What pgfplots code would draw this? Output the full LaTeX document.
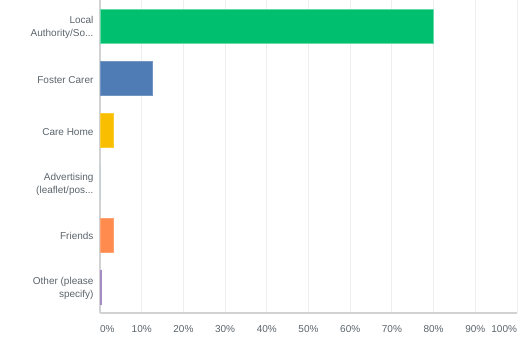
\documentclass[border=0pt]{standalone}
\usepackage{fontspec}
\setmainfont{Liberation Sans}
\usepackage{pgfplots}
\pgfplotsset{compat=1.18}
\definecolor{cgreen}{HTML}{00BF6F}
\definecolor{cblue}{HTML}{507CB6}
\definecolor{cyellow}{HTML}{F9BE00}
\definecolor{cteal}{HTML}{6BC8CD}
\definecolor{corange}{HTML}{FF8B4F}
\definecolor{cpurple}{HTML}{A68BC4}
\definecolor{ctext}{HTML}{5A646B}
\definecolor{cgrid}{HTML}{EDEEEE}
\definecolor{caxis}{HTML}{D0D2D3}
\begin{document}
\begin{tikzpicture}
\path[use as bounding box] (0,0) rectangle (519pt,357pt);
\begin{axis}[
  at={(100pt,44pt)}, anchor=south west,
  scale only axis, width=417pt, height=313pt,
  xbar, bar width=34pt,
  xmin=0, xmax=100,
  ymin=-0.5, ymax=5.5, y dir=reverse,
  axis x line*=bottom, axis y line*=left,
  axis line style={caxis, line width=1.2pt, -},
  xmajorgrids, grid style={cgrid, line width=1pt},
  major tick length=0pt,
  xtick={0,10,20,30,40,50,60,70,80,90,100},
  xticklabels={{\makebox[0pt][l]{0\%}},10\%,20\%,30\%,40\%,50\%,60\%,70\%,80\%,90\%,{\makebox[0pt][r]{100\%}}},
  ytick={0,1,2,3,4,5},
  yticklabels={{Local\\Authority/So.\kern0pt.\kern0pt.},{Foster Carer},{Care Home},{Advertising\\(leaflet/pos.\kern0pt.\kern0pt.},{Friends},{Other (please\\specify)}},
  tick label style={font=\fontsize{10}{13}\selectfont, text=ctext},
  yticklabel style={align=right, xshift=-3pt, yshift=-1.5pt},
  xticklabel style={yshift=-9pt},
]
\addplot[fill=cgreen, draw=cgreen!60!white, bar shift=0pt] coordinates {(80,0)};
\addplot[fill=cblue, draw=cblue!80!white, bar shift=0pt] coordinates {(12.4,1)};
\addplot[fill=cyellow, draw=cyellow!80!white, bar shift=0pt] coordinates {(3.2,2)};
\addplot[fill=cteal, draw=none, bar shift=0pt] coordinates {(0,3)};
\addplot[fill=corange, draw=corange!80!white, bar shift=0pt] coordinates {(3.2,4)};
\addplot[fill=cpurple, draw=cpurple, bar shift=0pt] coordinates {(0.25,5)};
\end{axis}
\end{tikzpicture}
\end{document}
